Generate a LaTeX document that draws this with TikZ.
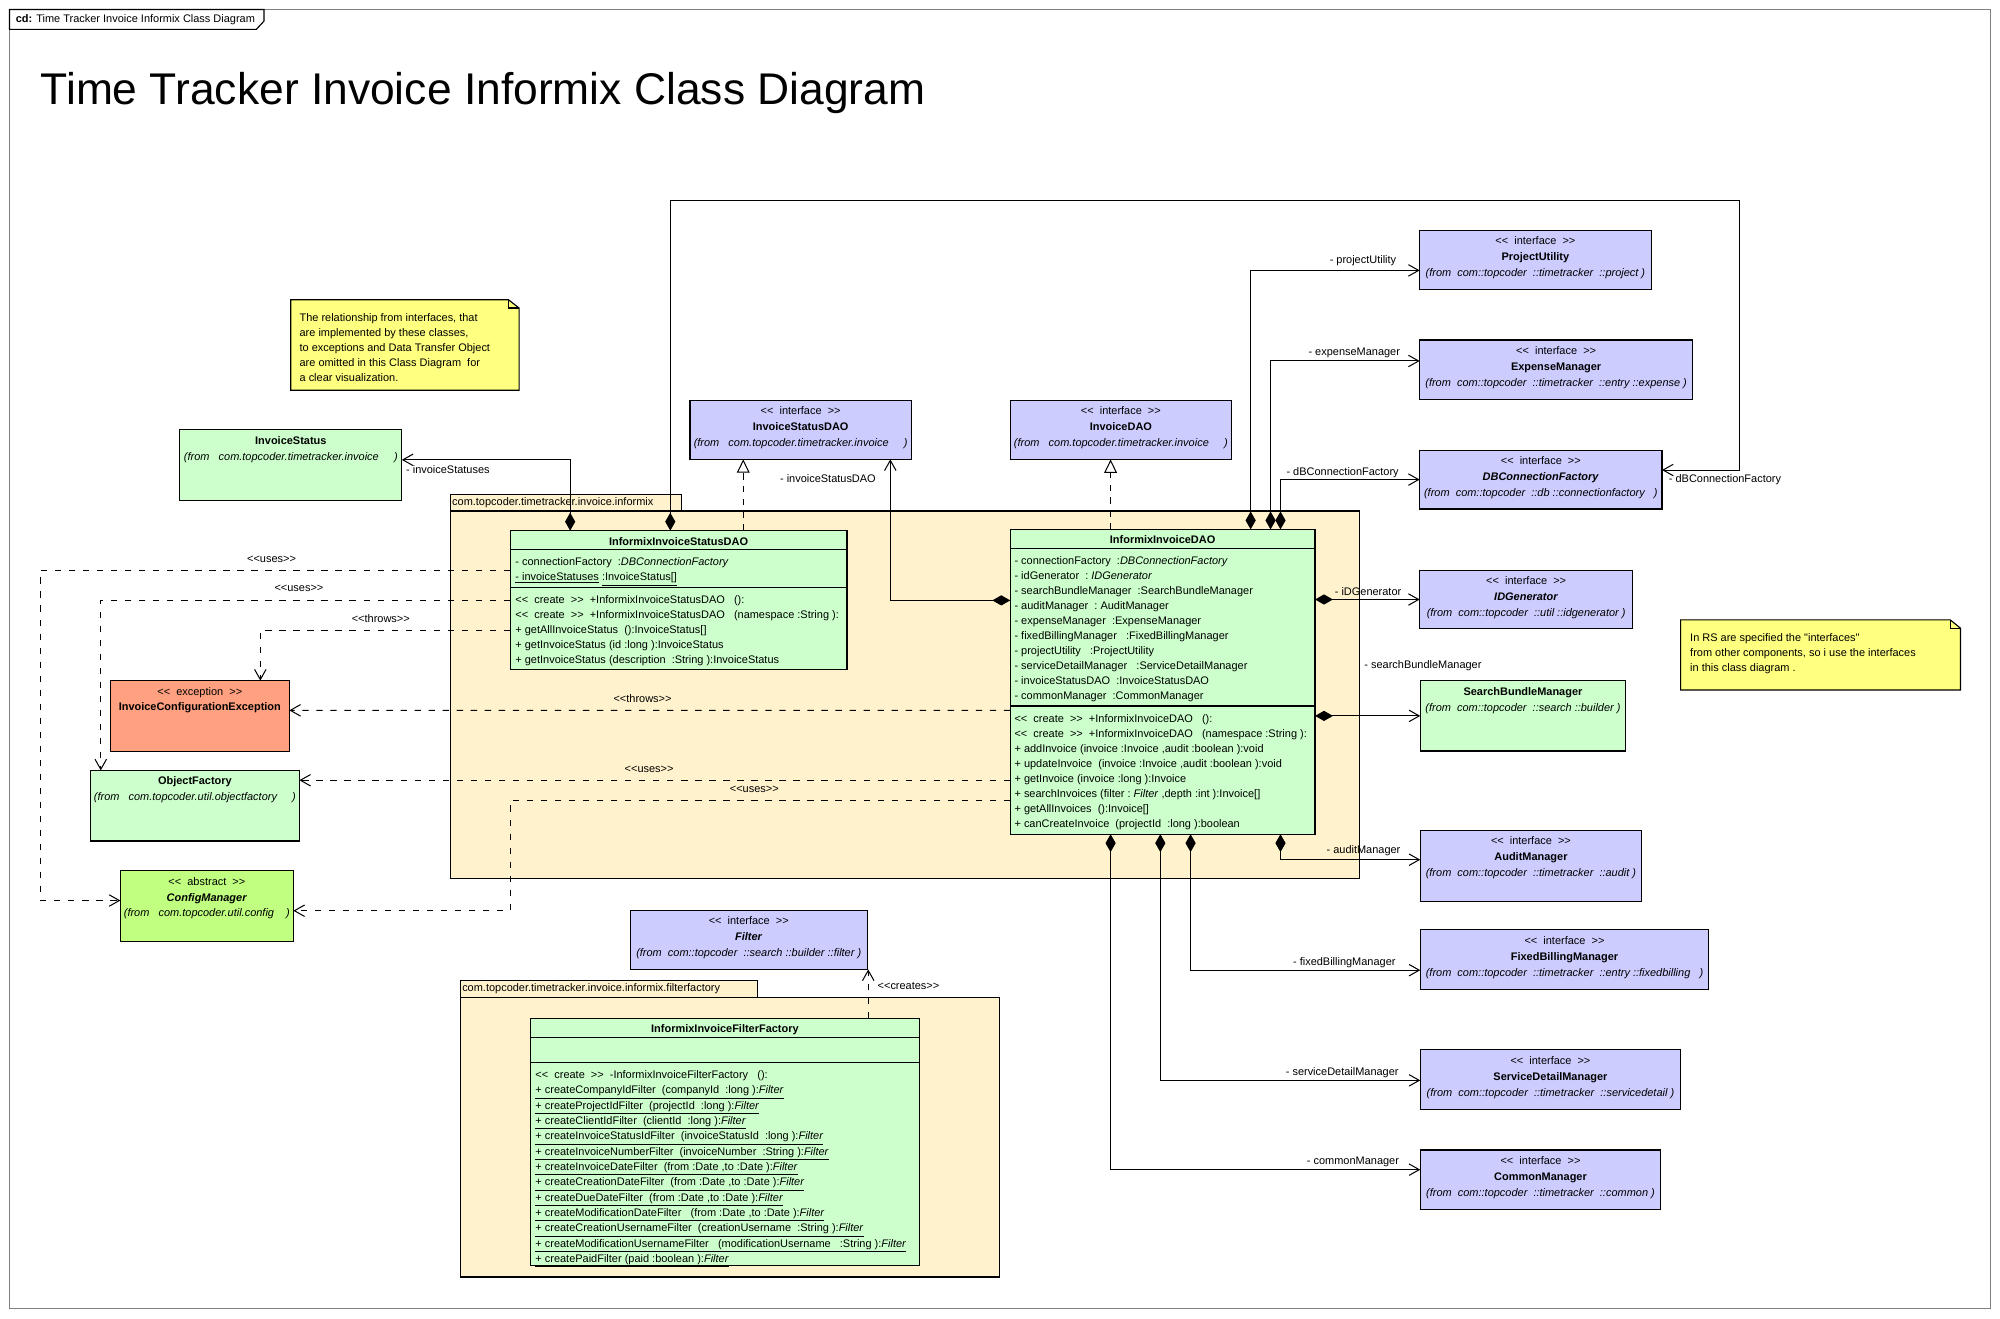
\documentclass[tikz,border=0pt]{standalone}
\usepackage{fontspec}
\setmainfont{Liberation Sans}[Ligatures=TeXOff]
\usepackage{tikz}
\usetikzlibrary{arrows.meta,positioning}
\usepackage{xcolor}
\definecolor{ifaceblue}{RGB}{204,204,255}
\definecolor{classgreen}{RGB}{204,255,204}
\definecolor{pkgtan}{RGB}{255,242,204}
\definecolor{noteyellow}{RGB}{255,255,128}
\definecolor{excsalmon}{RGB}{255,160,128}
\definecolor{abstractgreen}{RGB}{192,255,128}
\definecolor{framegray}{RGB}{128,128,128}
\tikzset{%
    assoc line/.style={{Diamond[length=14pt,width=8pt]}->},
    realize line/.style={dash pattern=on 5pt off 5pt,-{Triangle[open,length=10.5pt,width=10pt]}},
    uses line/.style={dash pattern=on 5pt off 6pt,->}
}

\begin{document}
\begin{tikzpicture}[x=1pt,y=-1pt,>={Straight Barb[length=8pt,width=9pt]},
  line width=0.8pt,
  uml box/.style={draw,line width=0.9pt,inner sep=0pt,outer sep=0pt,anchor=north west},
  iface node/.style={uml box,fill=ifaceblue},
  class node/.style={uml box,fill=classgreen},
  exc node/.style={uml box,fill=excsalmon},
  abstract node/.style={uml box,fill=abstractgreen},
  pkg node/.style={uml box,fill=pkgtan},
  pkg tab/.style={draw,line width=0.9pt,fill=pkgtan,inner xsep=1.5pt,inner ysep=0pt,outer sep=0pt,
    minimum height=13.1pt,align=left,font=\fontsize{8.6}{10}\selectfont},
  head text/.style={anchor=base,inner sep=0pt,font=\fontsize{8.6}{12.5}\selectfont},
  member text/.style={anchor=base west,inner sep=0pt,font=\fontsize{8.6}{11.76}\selectfont},
  conn label/.style={inner sep=0pt,font=\fontsize{8.6}{10}\selectfont}]

  \useasboundingbox (0,0) rectangle (1568,1034);

  % frame
  \draw[line width=0.9pt,framegray] (7.5,7.5) rectangle (1560.5,1026);
  \draw[line width=0.9pt,fill=white] (7.5,7.5) -- (207,7.5) -- (207,16.5) -- (201,23) -- (7.5,23) -- cycle;
  \node[anchor=west,inner sep=0pt,font=\fontsize{8.6}{10}\selectfont] (frameTab) at (12,15.6)
    {\textbf{cd:} Time Tracker Invoice Informix Class Diagram};
  \node[anchor=base west,inner sep=0pt,font=\fontsize{34.8}{40}\selectfont] (title) at (31.5,82.3)
    {Time Tracker Invoice Informix Class Diagram};

  % notes
  \filldraw[fill=noteyellow,line width=0.9pt] (228,235) -- (398.6,235) -- (407,241.5) -- (407,306) -- (228,306) -- cycle;
  \draw[line width=0.9pt] (398.6,235) -- (398.6,241.5) -- (407,241.5);
  \node[member text] (noteOmitted) at (234.5,252.4) {\begin{tabular}[t]{@{}l@{}}
    The relationship from interfaces, that\\
    are implemented by these classes,\\
    to exceptions and Data Transfer Object\\
    are omitted in this Class Diagram~~for\\
    a clear visualization.\end{tabular}};
  \filldraw[fill=noteyellow,line width=0.9pt] (1317.6,486) -- (1529,486) -- (1537,492.5) -- (1537,541) -- (1317.6,541) -- cycle;
  \draw[line width=0.9pt] (1529,486) -- (1529,492.5) -- (1537,492.5);
  \node[member text] (noteRS) at (1324.7,503.2) {\begin{tabular}[t]{@{}l@{}}
    In RS are specified the "interfaces"\\
    from other components, so i use the interfaces\\
    in this class diagram .\end{tabular}};

  % packages
  \node[pkg node,minimum width=712.8pt,minimum height=288.4pt] (pkgInformix) at (353,400.6) {};
  \node[pkg tab,text width=178.3pt,above right=0pt and 0pt of pkgInformix.north west] (pkgInformixTab)
    {com.topcoder.timetracker.invoice.informix};
  \node[pkg node,minimum width=422.5pt,minimum height=219.5pt] (pkgFilter) at (360.9,781.7) {};
  \node[pkg tab,text width=229.7pt,above right=0pt and 0pt of pkgFilter.north west] (pkgFilterTab)
    {com.topcoder.timetracker.invoice.informix.filterfactory};

  % interfaces on the right
  \node[iface node,minimum width=181.5pt,minimum height=46.3pt] (pu) at (1113,180.5) {};
  \node[head text] (pu-t) at ([yshift=-11.3pt]pu.north) {\begin{tabular}[t]{@{}c@{}}<<~~interface~~>>\\
    \textbf{ProjectUtility}\\\textit{(from~~com::topcoder~~::timetracker~~::project~)}\end{tabular}};
  \node[iface node,minimum width=214pt,minimum height=46.4pt] (em) at (1113,266.6) {};
  \node[head text] (em-t) at ([yshift=-11.3pt]em.north) {\begin{tabular}[t]{@{}c@{}}<<~~interface~~>>\\
    \textbf{ExpenseManager}\\\textit{(from~~com::topcoder~~::timetracker~~::entry~::expense~)}\end{tabular}};
  \node[iface node,minimum width=190pt,minimum height=46pt] (dbcf) at (1113,353) {};
  \node[head text] (dbcf-t) at ([yshift=-11.3pt]dbcf.north) {\begin{tabular}[t]{@{}c@{}}<<~~interface~~>>\\
    \textbf{\textit{DBConnectionFactory}}\\\textit{(from~~com::topcoder~~::db~::connectionfactory~~~)}\end{tabular}};
  \node[iface node,minimum width=167pt,minimum height=46pt] (idg) at (1113,447) {};
  \node[head text] (idg-t) at ([yshift=-11.3pt]idg.north) {\begin{tabular}[t]{@{}c@{}}<<~~interface~~>>\\
    \textbf{\textit{IDGenerator}}\\\textit{(from~~com::topcoder~~::util~::idgenerator~)}\end{tabular}};
  \node[class node,minimum width=161pt,minimum height=55.1pt] (sbm) at (1113.5,533.7) {};
  \node[head text] (sbm-t) at ([yshift=-11.3pt]sbm.north) {\begin{tabular}[t]{@{}c@{}}
    \textbf{SearchBundleManager}\\\textit{(from~~com::topcoder~~::search~::builder~)}\end{tabular}};
  \node[iface node,minimum width=173.5pt,minimum height=55.6pt] (am) at (1113.5,651) {};
  \node[head text] (am-t) at ([yshift=-11.3pt]am.north) {\begin{tabular}[t]{@{}c@{}}<<~~interface~~>>\\
    \textbf{AuditManager}\\\textit{(from~~com::topcoder~~::timetracker~~::audit~)}\end{tabular}};
  \node[iface node,minimum width=226.1pt,minimum height=46.6pt] (fbm) at (1113.5,729) {};
  \node[head text] (fbm-t) at ([yshift=-11.3pt]fbm.north) {\begin{tabular}[t]{@{}c@{}}<<~~interface~~>>\\
    \textbf{FixedBillingManager}\\\textit{(from~~com::topcoder~~::timetracker~~::entry~::fixedbilling~~~)}\end{tabular}};
  \node[iface node,minimum width=204.1pt,minimum height=46.6pt] (sdm) at (1113.5,823) {};
  \node[head text] (sdm-t) at ([yshift=-11.3pt]sdm.north) {\begin{tabular}[t]{@{}c@{}}<<~~interface~~>>\\
    \textbf{ServiceDetailManager}\\\textit{(from~~com::topcoder~~::timetracker~~::servicedetail~)}\end{tabular}};
  \node[iface node,minimum width=188.5pt,minimum height=46.4pt] (cm) at (1113.5,901.6) {};
  \node[head text] (cm-t) at ([yshift=-11.3pt]cm.north) {\begin{tabular}[t]{@{}c@{}}<<~~interface~~>>\\
    \textbf{CommonManager}\\\textit{(from~~com::topcoder~~::timetracker~~::common~)}\end{tabular}};

  % interfaces above the package
  \node[iface node,minimum width=173.4pt,minimum height=46.3pt] (isd) at (541,313.8) {};
  \node[head text] (isd-t) at ([yshift=-11.3pt]isd.north) {\begin{tabular}[t]{@{}c@{}}<<~~interface~~>>\\
    \textbf{InvoiceStatusDAO}\\\textit{(from~~~com.topcoder.timetracker.invoice~~~~~)}\end{tabular}};
  \node[iface node,minimum width=173.5pt,minimum height=46.3pt] (idI) at (792,313.9) {};
  \node[head text] (idI-t) at ([yshift=-11.3pt]idI.north) {\begin{tabular}[t]{@{}c@{}}<<~~interface~~>>\\
    \textbf{InvoiceDAO}\\\textit{(from~~~com.topcoder.timetracker.invoice~~~~~)}\end{tabular}};
  \node[iface node,minimum width=185.6pt,minimum height=46.3pt] (flt) at (494.2,713.7) {};
  \node[head text] (flt-t) at ([yshift=-11.3pt]flt.north) {\begin{tabular}[t]{@{}c@{}}<<~~interface~~>>\\
    \textbf{\textit{Filter}}\\\textit{(from~~com::topcoder~~::search~::builder~::filter~)}\end{tabular}};

  % classes on the left
  \node[class node,minimum width=174pt,minimum height=55.6pt] (is) at (141,337) {};
  \node[head text] (is-t) at ([yshift=-11.3pt]is.north) {\begin{tabular}[t]{@{}c@{}}
    \textbf{InvoiceStatus}\\\textit{(from~~~com.topcoder.timetracker.invoice~~~~~)}\end{tabular}};
  \node[exc node,minimum width=140.3pt,minimum height=55.4pt] (ice) at (86.5,533.6) {};
  \node[head text] (ice-t) at ([yshift=-11.3pt]ice.north) {\begin{tabular}[t]{@{}c@{}}<<~~exception~~>>\\
    \textbf{InvoiceConfigurationException}\end{tabular}};
  \node[class node,minimum width=163.8pt,minimum height=55.3pt] (of) at (70.9,604) {};
  \node[head text] (of-t) at ([yshift=-11.3pt]of.north) {\begin{tabular}[t]{@{}c@{}}
    \textbf{ObjectFactory}\\\textit{(from~~~com.topcoder.util.objectfactory~~~~~)}\end{tabular}};
  \node[abstract node,minimum width=135.6pt,minimum height=55.4pt] (cfg) at (94.4,682.6) {};
  \node[head text] (cfg-t) at ([yshift=-11.3pt]cfg.north) {\begin{tabular}[t]{@{}c@{}}<<~~abstract~~>>\\
    \textbf{\textit{ConfigManager}}\\\textit{(from~~~com.topcoder.util.config~~~~)}\end{tabular}};

  % InformixInvoiceStatusDAO
  \node[class node,minimum width=264pt,minimum height=109pt] (isdao) at (400,416) {};
  \draw[line width=0.9pt] ([yshift=-15pt]isdao.north west) -- ([yshift=-15pt]isdao.north east);
  \draw[line width=0.9pt] ([yshift=-44.4pt]isdao.north west) -- ([yshift=-44.4pt]isdao.north east);
  \node[head text] (isdao-t) at ([yshift=-11.3pt]isdao.north) {\textbf{InformixInvoiceStatusDAO}};
  \node[member text] (isdao-a) at ([xshift=3.7pt,yshift=-27.6pt]isdao.north west) {\begin{tabular}[t]{@{}l@{}}
    - connectionFactory~~:\textit{DBConnectionFactory}\\
    \underline{- invoiceStatuses}~\underline{:InvoiceStatus[]}\end{tabular}};
  \node[member text] (isdao-o) at ([xshift=3.7pt,yshift=-57.4pt]isdao.north west) {\begin{tabular}[t]{@{}l@{}}
    <<~~create~~>>~~+InformixInvoiceStatusDAO~~~():\\
    <<~~create~~>>~~+InformixInvoiceStatusDAO~~~(namespace~:String~):\\
    + getAllInvoiceStatus~~():InvoiceStatus[]\\
    + getInvoiceStatus (id~:long~):InvoiceStatus\\
    + getInvoiceStatus (description~~:String~):InvoiceStatus\end{tabular}};

  % InformixInvoiceDAO
  \node[class node,minimum width=239pt,minimum height=239pt] (idao) at (792,415) {};
  \draw[line width=0.9pt] ([yshift=-15pt]idao.north west) -- ([yshift=-15pt]idao.north east);
  \draw[line width=0.9pt] ([yshift=-138.5pt]idao.north west) -- ([yshift=-138.5pt]idao.north east);
  \node[head text] (idao-t) at ([yshift=-11.3pt]idao.north) {\textbf{InformixInvoiceDAO}};
  \node[member text] (idao-a) at ([xshift=3pt,yshift=-27.9pt]idao.north west) {\begin{tabular}[t]{@{}l@{}}
    - connectionFactory~~:\textit{DBConnectionFactory}\\
    - idGenerator~~:~\textit{IDGenerator}\\
    - searchBundleManager~~:SearchBundleManager\\
    - auditManager~~:~AuditManager\\
    - expenseManager~~:ExpenseManager\\
    - fixedBillingManager~~~:FixedBillingManager\\
    - projectUtility~~~:ProjectUtility\\
    - serviceDetailManager~~~:ServiceDetailManager\\
    - invoiceStatusDAO~~:InvoiceStatusDAO\\
    - commonManager~~:CommonManager\end{tabular}};
  \node[member text] (idao-o) at ([xshift=3pt,yshift=-151.8pt]idao.north west) {\begin{tabular}[t]{@{}l@{}}
    <<~~create~~>>~~+InformixInvoiceDAO~~~():\\
    <<~~create~~>>~~+InformixInvoiceDAO~~~(namespace~:String~):\\
    + addInvoice (invoice~:Invoice~,audit~:boolean~):void\\
    + updateInvoice~~(invoice~:Invoice~,audit~:boolean~):void\\
    + getInvoice (invoice~:long~):Invoice\\
    + searchInvoices (filter~:~\textit{Filter}~,depth~:int~):Invoice[]\\
    + getAllInvoices~~():Invoice[]\\
    + canCreateInvoice~~(projectId~~:long~):boolean\end{tabular}};

  % InformixInvoiceFilterFactory
  \node[class node,minimum width=304.7pt,minimum height=193.6pt] (iff) at (416,798.4) {};
  \draw[line width=0.9pt] ([yshift=-14.9pt]iff.north west) -- ([yshift=-14.9pt]iff.north east);
  \draw[line width=0.9pt] ([yshift=-34.8pt]iff.north west) -- ([yshift=-34.8pt]iff.north east);
  \node[head text] (iff-t) at ([yshift=-11.3pt]iff.north) {\textbf{InformixInvoiceFilterFactory}};
  \node[member text] (iff-o) at ([xshift=3.4pt,yshift=-47.5pt]iff.north west) {\begin{tabular}[t]{@{}l@{}}
    <<~~create~~>>~~-InformixInvoiceFilterFactory~~~():\\
    \underline{+ createCompanyIdFilter~~(companyId~~:long~):\textit{Filter}}\\
    \underline{+ createProjectIdFilter~~(projectId~~:long~):\textit{Filter}}\\
    \underline{+ createClientIdFilter~~(clientId~~:long~):\textit{Filter}}\\
    \underline{+ createInvoiceStatusIdFilter~~(invoiceStatusId~~:long~):\textit{Filter}}\\
    \underline{+ createInvoiceNumberFilter~~(invoiceNumber~~:String~):\textit{Filter}}\\
    \underline{+ createInvoiceDateFilter~~(from~:Date~,to~:Date~):\textit{Filter}}\\
    \underline{+ createCreationDateFilter~~(from~:Date~,to~:Date~):\textit{Filter}}\\
    \underline{+ createDueDateFilter~~(from~:Date~,to~:Date~):\textit{Filter}}\\
    \underline{+ createModificationDateFilter~~~(from~:Date~,to~:Date~):\textit{Filter}}\\
    \underline{+ createCreationUsernameFilter~~(creationUsername~~:String~):\textit{Filter}}\\
    \underline{+ createModificationUsernameFilter~~~(modificationUsername~~~:String~):\textit{Filter}}\\
    \underline{+ createPaidFilter~(paid~:boolean~):\textit{Filter}}\end{tabular}};

  % associations
  \coordinate (loopCorner) at (1364,157);
  \draw[assoc line] ([xshift=-85pt]isdao.north) |- ([yshift=4.3pt]is.east)
    node[conn label,anchor=west,xshift=3pt,yshift=-7.9pt] (l-is) {- invoiceStatuses};
  \draw[assoc line] ([xshift=-6.5pt]isdao.north) |- (loopCorner) |- ([yshift=7.5pt]dbcf.east)
    node[conn label,anchor=west,xshift=5pt,yshift=-7.5pt] (l-dbcf2) {- dBConnectionFactory};
  \draw[assoc line] ([yshift=63.8pt]idao.west) -| ([xshift=70.3pt]isd.south)
    node[conn label,anchor=east,xshift=-11pt,yshift=-15.4pt] (l-isd) {- invoiceStatusDAO};
  \draw[assoc line] ([xshift=69pt]idao.north) |- ([yshift=-8.35pt]pu.west)
    node[conn label,anchor=east,xshift=-18pt,yshift=7.4pt] (l-pu) {- projectUtility};
  \draw[assoc line] ([xshift=84.6pt]idao.north) |- ([yshift=6.8pt]em.west)
    node[conn label,anchor=east,xshift=-15pt,yshift=6.5pt] (l-em) {- expenseManager};
  \draw[assoc line] ([xshift=92.4pt]idao.north) |- (dbcf.west)
    node[conn label,anchor=east,xshift=-16pt,yshift=5.7pt] (l-dbcf) {- dBConnectionFactory};
  \draw[assoc line] (idao.east |- idg.west) -- (idg.west)
    node[conn label,anchor=east,xshift=-14pt,yshift=6.4pt] (l-idg) {- iDGenerator};
  \draw[assoc line] (idao.east |- sbm.west) -- (sbm.west)
    node[conn label,anchor=west,xshift=-44.2pt,yshift=39.6pt] (l-sbm) {- searchBundleManager};
  \draw[assoc line] ([xshift=92.4pt]idao.south) |- ([yshift=4.8pt]am.west)
    node[conn label,anchor=east,xshift=-15.2pt,yshift=7pt] (l-am) {- auditManager};
  \draw[assoc line] ([xshift=21.9pt]idao.south) |- ([yshift=-8.3pt]fbm.west)
    node[conn label,anchor=east,xshift=-19pt,yshift=5.9pt] (l-fbm) {- fixedBillingManager};
  \draw[assoc line] ([xshift=-1.8pt]idao.south) |- ([yshift=-0.7pt]sdm.west)
    node[conn label,anchor=east,xshift=-16.6pt,yshift=6.4pt] (l-sdm) {- serviceDetailManager};
  \draw[assoc line] ([xshift=-40.8pt]idao.south) |- ([yshift=7.8pt]cm.west)
    node[conn label,anchor=east,xshift=-16.3pt,yshift=6pt] (l-cm) {- commonManager};

  % realizations
  \draw[realize line] ([xshift=50.7pt]isdao.north) -- ([xshift=-45pt]isd.south);
  \draw[realize line] ([xshift=-40.8pt]idao.north) -- ([xshift=-8.05pt]idI.south);

  % dependencies
  \coordinate (usesCfgL) at (31.7,706);
  \coordinate (usesCfgR) at (400.1,714);
  \draw[uses line] ([yshift=23.5pt]isdao.west) -| (usesCfgL)
    node[conn label,pos=0.254,yshift=8.6pt] (l-u1) {<<uses>>} -- ([yshift=4.3pt]cfg.west);
  \draw[uses line] (isdao.west) -| ([xshift=-73.8pt]of.north)
    node[conn label,pos=0.258,yshift=8.9pt] (l-u2) {<<uses>>};
  \draw[uses line] ([yshift=-23.6pt]isdao.west) -| ([xshift=47.45pt]ice.north)
    node[conn label,pos=0.259,yshift=8.9pt] (l-t1) {<<throws>>};
  \draw[uses line] ([yshift=-22.4pt]idao.west) -- ([yshift=4.4pt]ice.east)
    node[conn label,pos=0.51,yshift=8.9pt] (l-t2) {<<throws>>};
  \draw[uses line] ([yshift=-77.2pt]idao.west) -- ([yshift=19.95pt]of.east)
    node[conn label,pos=0.508,yshift=8.7pt] (l-u3) {<<uses>>};
  \draw[uses line] ([yshift=-92.9pt]idao.west) -| (usesCfgR)
    node[conn label,pos=0.256,yshift=8.4pt] (l-u4) {<<uses>>} -- ([yshift=-3.7pt]cfg.east);
  \draw[uses line] ([xshift=112.35pt]iff.north) -- ([xshift=93.7pt]flt.south)
    node[conn label,pos=0.654,anchor=west,xshift=7pt] (l-cr) {<<creates>>};
\end{tikzpicture}
\end{document}
